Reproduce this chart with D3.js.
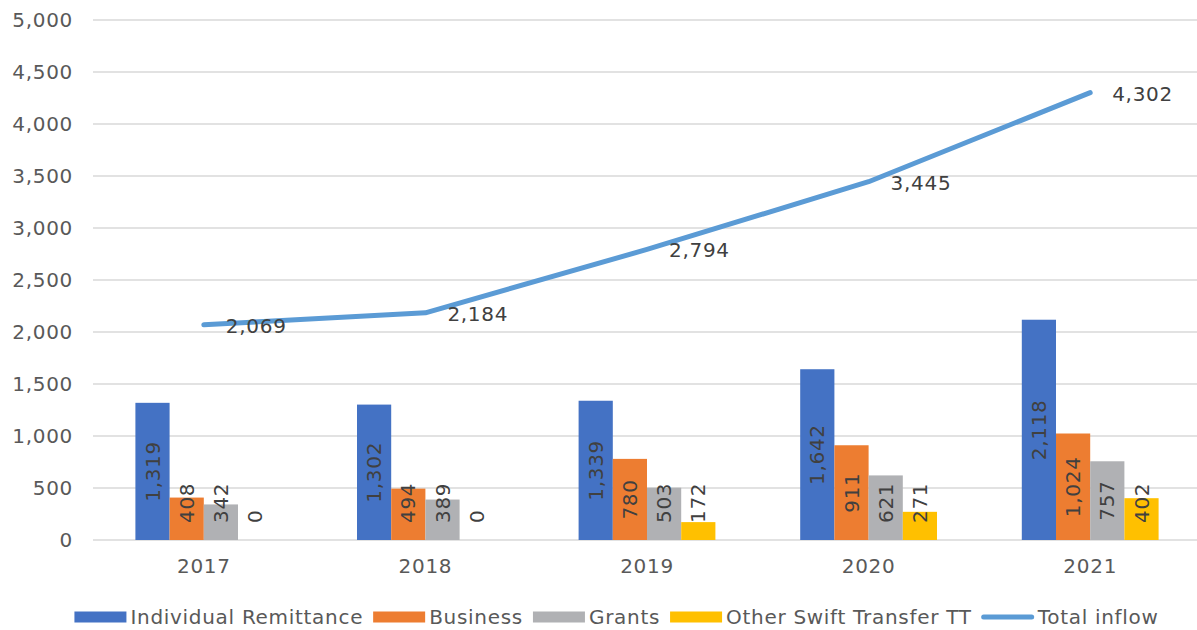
<!DOCTYPE html>
<html>
<head>
<meta charset="utf-8">
<script src="https://cdn.jsdelivr.net/npm/d3@7"></script>
<style>
  html, body { margin: 0; padding: 0; background: #ffffff; }
  svg { display: block; }
  text { font-family: "DejaVu Sans", sans-serif; letter-spacing: 0.7px; }
</style>
</head>
<body>
<svg id="chart" width="1197" height="630"></svg>
<script>
const years = ["2017", "2018", "2019", "2020", "2021"];
const individualRemittance = [1319, 1302, 1339, 1642, 2118];
const business = [408, 494, 780, 911, 1024];
const grants = [342, 389, 503, 621, 757];
const otherSwift = [0, 0, 172, 271, 402];
const totalInflow = [2069, 2184, 2794, 3445, 4302];
const yTicks = [0, 500, 1000, 1500, 2000, 2500, 3000, 3500, 4000, 4500, 5000];
const seriesNames = ["Individual Remittance", "Business", "Grants", "Other Swift Transfer TT"];
const lineName = "Total inflow";

const barSeries = [individualRemittance, business, grants, otherSwift];
const barColors = ["#4472c4", "#ed7d31", "#b0b1b4", "#ffc000"];
const lineColor = "#5b9bd5";

const svg = d3.select("#chart");
const W = 1197, H = 630;
const plot = { left: 93, right: 1201, top: 20, bottom: 540 };
const fontSize = 20;

const x = d3.scaleBand().domain(years).range([plot.left, plot.right]).paddingInner(0).paddingOuter(0);
const y = d3.scaleLinear().domain([0, 5000]).range([plot.bottom, plot.top]);
const barW = 34.2;
const xs = d3.scaleBand().domain(d3.range(barSeries.length)).range([-2 * barW, 2 * barW]).padding(0);

// gridlines
svg.append("g").selectAll("line").data(yTicks).join("line")
  .attr("x1", plot.left).attr("x2", W)
  .attr("y1", d => y(d)).attr("y2", d => y(d))
  .attr("stroke", "#d9d9d9").attr("stroke-width", 1.5);

// y axis labels
const yAxis = d3.axisLeft(y).tickValues(yTicks).tickFormat(d3.format(",")).tickSize(0).tickPadding(0);
const gy = svg.append("g").attr("transform", `translate(73,0)`).call(yAxis);
gy.select(".domain").remove();
gy.selectAll("text").attr("font-size", fontSize).attr("fill", "#595959").attr("font-family", "DejaVu Sans");

// x axis labels
const xAxis = d3.axisBottom(x).tickSize(0).tickPadding(0);
const gx = svg.append("g").attr("transform", `translate(0,559)`).call(xAxis);
gx.select(".domain").remove();
gx.selectAll("text").attr("font-size", fontSize).attr("fill", "#595959").attr("font-family", "DejaVu Sans");

// bars
const barData = [];
barSeries.forEach((arr, si) => arr.forEach((v, i) => barData.push({ si, year: years[i], v })));
svg.append("g").selectAll("rect").data(barData).join("rect")
  .attr("x", d => x(d.year) + x.bandwidth() / 2 + xs(d.si))
  .attr("width", xs.bandwidth())
  .attr("y", d => y(d.v))
  .attr("height", d => y(0) - y(d.v))
  .attr("fill", d => barColors[d.si]);

// bar labels
const fmt = d3.format(",");
const lbl = svg.append("g").selectAll("text").data(barData).join("text")
  .text(d => fmt(d.v))
  .attr("font-size", fontSize).attr("fill", "#404040")
  .attr("text-anchor", "middle").attr("dominant-baseline", "central");
lbl.each(function(d) {
  const len = this.getComputedTextLength();
  const cx = x(d.year) + x.bandwidth() / 2 + xs(d.si) + xs.bandwidth() / 2;
  const cy = Math.min((y(d.v) + y(0)) / 2, 523 - len / 2);
  d3.select(this).attr("transform", `translate(${cx},${cy}) rotate(-90)`);
});

// line
const pts = totalInflow.map((v, i) => ({ year: years[i], v }));
const line = d3.line().x(d => x(d.year) + x.bandwidth() / 2).y(d => y(d.v));
svg.append("path").datum(pts).attr("d", line)
  .attr("fill", "none").attr("stroke", lineColor).attr("stroke-width", 5)
  .attr("stroke-linecap", "round").attr("stroke-linejoin", "round");

svg.append("g").selectAll("text").data(pts).join("text")
  .attr("x", d => x(d.year) + x.bandwidth() / 2 + 22)
  .attr("y", d => y(d.v) + 1)
  .attr("dominant-baseline", "central")
  .attr("font-size", fontSize).attr("fill", "#404040")
  .text(d => fmt(d.v));

// legend
const legendItems = seriesNames.map((n, i) => ({ name: n, color: barColors[i], type: "rect" }))
  .concat([{ name: lineName, color: lineColor, type: "line" }]);
const lg = svg.append("g");
const swW = 52, gap1 = 4, gap2 = 10, ly = 617;
let cursor = 0;
const items = lg.selectAll("g").data(legendItems).join("g");
items.each(function(d) {
  const g = d3.select(this);
  const t = g.append("text").attr("x", swW + gap1).attr("y", ly).attr("dominant-baseline", "central")
    .attr("font-size", fontSize).attr("fill", "#595959").text(d.name);
  if (d.type === "rect") {
    g.append("rect").attr("x", 0).attr("y", ly - 5.5).attr("width", swW).attr("height", 11).attr("fill", d.color);
  } else {
    g.append("line").attr("x1", 2).attr("x2", swW - 2).attr("y1", ly).attr("y2", ly)
      .attr("stroke", d.color).attr("stroke-width", 5).attr("stroke-linecap", "round");
  }
  d.w = swW + gap1 + t.node().getComputedTextLength();
});
const totalW = d3.sum(legendItems, d => d.w) + gap2 * (legendItems.length - 1);
cursor = 616.5 - totalW / 2;
items.each(function(d) {
  d3.select(this).attr("transform", `translate(${cursor},0)`);
  cursor += d.w + gap2;
});
</script>
</body>
</html>
